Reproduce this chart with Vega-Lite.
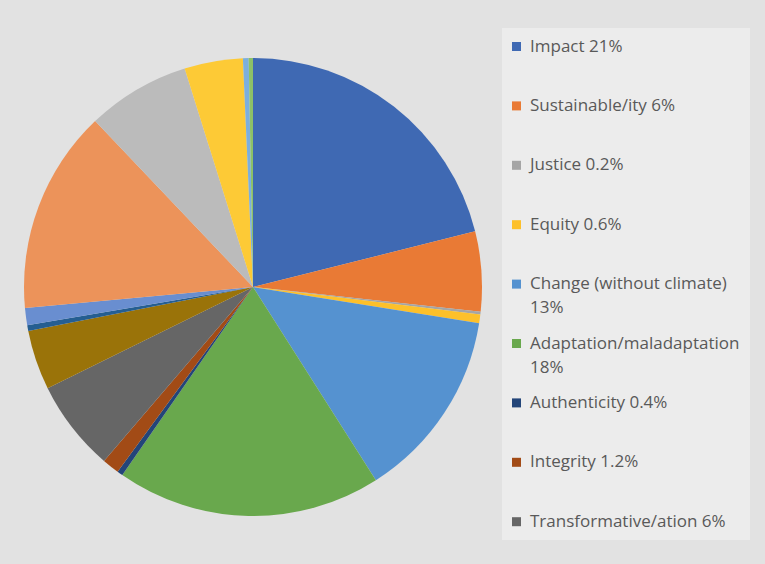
{
  "$schema": "https://vega.github.io/schema/vega-lite/v6.json",
  "width": 506,
  "height": 554,
  "autosize": {"type": "none"},
  "padding": {"left": 0, "top": 10, "right": 259, "bottom": 0},
  "background": "#e2e2e2",
  "config": {"view": {"stroke": null}, "style": {"guide-label": {"lineHeight": 24}}},
  "data": {
    "values": [
      {"name": "Impact 21%", "value": 21.0, "order": 1},
      {"name": "Sustainable/ity 6%", "value": 5.6, "order": 2},
      {"name": "Justice 0.2%", "value": 0.2, "order": 3},
      {"name": "Equity 0.6%", "value": 0.6, "order": 4},
      {"name": "Change (without climate) 13%", "value": 13.4, "order": 5},
      {"name": "Adaptation/maladaptation 18%", "value": 18.6, "order": 6},
      {"name": "Authenticity 0.4%", "value": 0.4, "order": 7},
      {"name": "Integrity 1.2%", "value": 1.2, "order": 8},
      {"name": "Transformative/ation 6%", "value": 6.4, "order": 9},
      {"name": "Other 10", "value": 4.2, "order": 10},
      {"name": "Other 11", "value": 0.4, "order": 11},
      {"name": "Other 12", "value": 1.2, "order": 12},
      {"name": "Other 13", "value": 14.3, "order": 13},
      {"name": "Other 14", "value": 7.25, "order": 14},
      {"name": "Other 15", "value": 4.1, "order": 15},
      {"name": "Other 16", "value": 0.4, "order": 16},
      {"name": "Other 17", "value": 0.3, "order": 17}
    ]
  },
  "mark": {"type": "arc", "outerRadius": 229, "stroke": null},
  "encoding": {
    "theta": {"field": "value", "type": "quantitative", "stack": true},
    "order": {"field": "order", "type": "quantitative", "sort": "ascending"},
    "color": {
      "field": "name",
      "type": "nominal",
      "sort": null,
      "scale": {
        "domain": ["Impact 21%", "Sustainable/ity 6%", "Justice 0.2%", "Equity 0.6%", "Change (without climate) 13%", "Adaptation/maladaptation 18%", "Authenticity 0.4%", "Integrity 1.2%", "Transformative/ation 6%", "Other 10", "Other 11", "Other 12", "Other 13", "Other 14", "Other 15", "Other 16", "Other 17"],
        "range": ["#3F69B3", "#E97A35", "#A5A5A5", "#FDC02A", "#5592D0", "#69A84D", "#234579", "#A24B16", "#666666", "#9A7309", "#255E91", "#698ED0", "#EC935A", "#BBBBBB", "#FDCA36", "#7CAFDD", "#8CC168"]
      },
      "legend": {
        "title": null,
        "orient": "none",
        "legendX": 502,
        "legendY": 18,
        "values": ["Impact 21%", "Sustainable/ity 6%", "Justice 0.2%", "Equity 0.6%", "Change (without climate) 13%", "Adaptation/maladaptation 18%", "Authenticity 0.4%", "Integrity 1.2%", "Transformative/ation 6%"],
        "fillColor": "#ececec",
        "padding": 10,
        "symbolType": "square",
        "symbolSize": 81,
        "symbolStrokeWidth": 0,
        "symbolOffset": -4,
        "labelOffset": 5,
        "labelFont": "Open Sans",
        "labelFontSize": 17,
        "labelColor": "#595959",
        "labelLimit": 300,
        "rowPadding": 17.4,
        "labelExpr": "datum.label == 'Change (without climate) 13%' ? ['Change (without climate)', '13%'] : datum.label == 'Adaptation/maladaptation 18%' ? ['Adaptation/maladaptation', '18%'] : datum.label == 'Transformative/ation 6%' ? datum.label : [datum.label, ' ']",
        "encode": {
          "labels": {
            "update": {
              "lineHeight": {"value": 24},
              "dy": {"signal": "datum.value == 'Transformative/ation 6%' ? 0 : 12"}
            }
          }
        }
      }
    }
  }
}
